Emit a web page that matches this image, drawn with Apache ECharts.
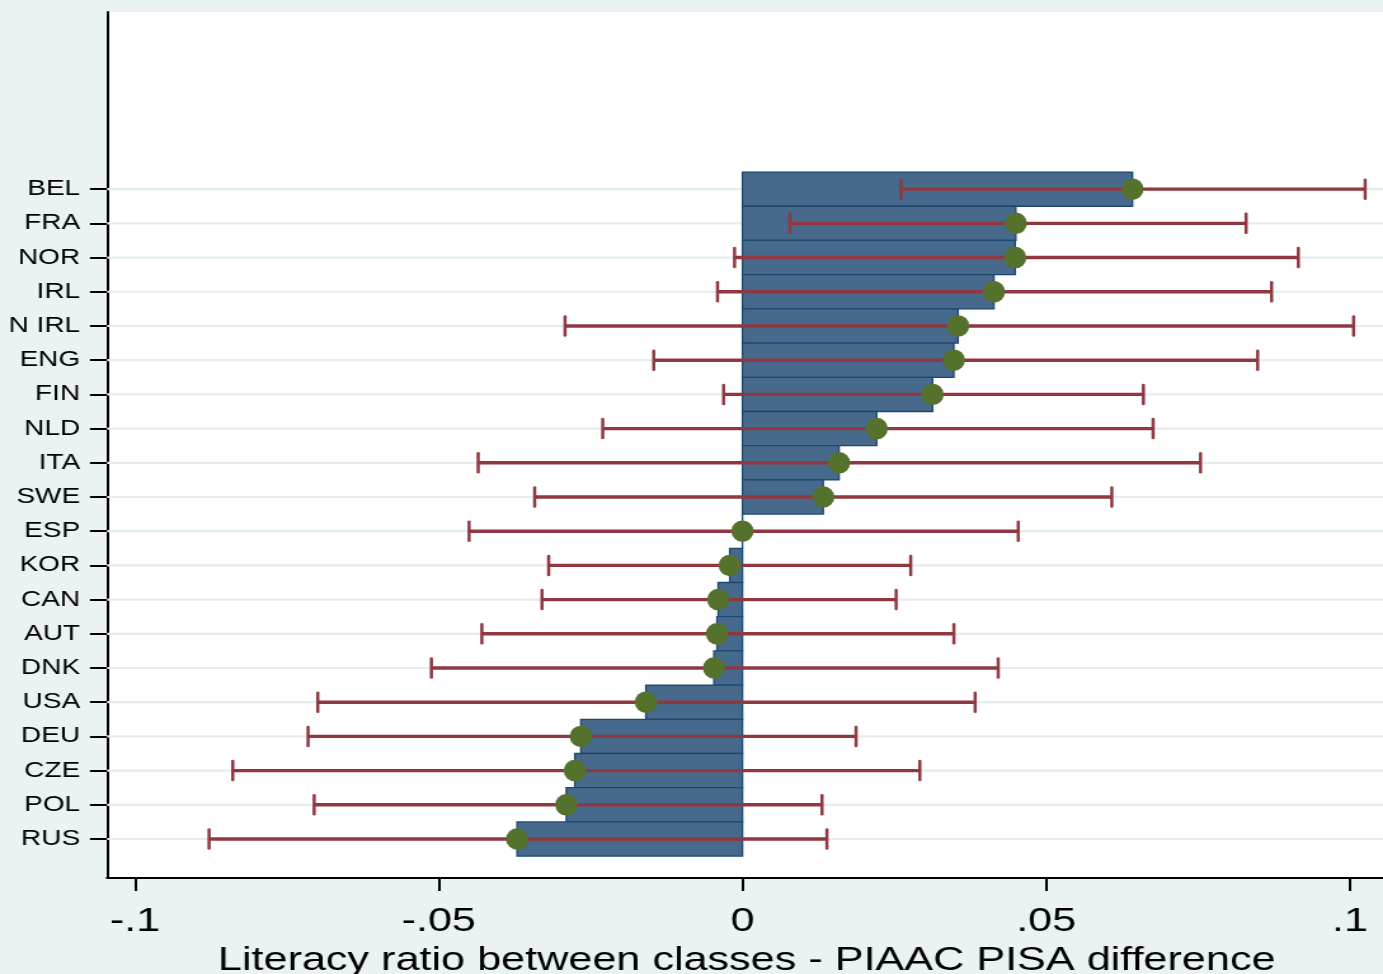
<!DOCTYPE html>
<html>
<head>
<meta charset="utf-8">
<script src="https://cdn.jsdelivr.net/npm/echarts@6/dist/echarts.min.js"></script>
<style>
html,body{margin:0;padding:0;overflow:hidden;background:#eaf2f3;width:1383px;height:974px;}
#chart{width:1100px;height:974px;transform:scaleX(1.27);transform-origin:0 0;}
</style>
</head>
<body>
<div id="chart"></div>
<script>
// Data (top to bottom as in the chart)
const countries = ['BEL','FRA','NOR','IRL','N IRL','ENG','FIN','NLD','ITA','SWE','ESP','KOR','CAN','AUT','DNK','USA','DEU','CZE','POL','RUS'];
const difference = [0.0642,0.0450,0.0449,0.0414,0.0355,0.0348,0.0313,0.0221,0.0159,0.0133,0.0000,-0.0021,-0.0040,-0.0042,-0.0047,-0.0159,-0.0266,-0.0276,-0.0290,-0.0371];
const ciLow = [0.0261,0.0078,-0.0013,-0.0041,-0.0292,-0.0146,-0.0031,-0.0230,-0.0435,-0.0342,-0.0450,-0.0319,-0.0330,-0.0429,-0.0512,-0.0699,-0.0715,-0.0839,-0.0705,-0.0878];
const ciHigh = [0.1025,0.0829,0.0915,0.0871,0.1006,0.0848,0.0660,0.0676,0.0754,0.0608,0.0454,0.0277,0.0253,0.0348,0.0421,0.0383,0.0187,0.0292,0.0131,0.0139];
const xTicks = [-0.1,-0.05,0,0.05,0.1];
const xTickLabels = ['-.1','-.05','0','.05','.1'];
const xTitle = 'Literacy ratio between classes - PIAAC PISA difference';

const N = countries.length;
const yPos = countries.map((c,i)=>N-i);
const X_MIN = -0.1046, X_MAX = 0.1060;

const FONT = 'Liberation Sans, Arial, sans-serif';
const chart = echarts.init(document.getElementById('chart'), null, {renderer:'canvas', width:1100, height:974});

const option = {
  backgroundColor:'#eaf2f3',
  animation:false,
  grid:{left:84.25, top:12, width:1007.4, height:866, show:true, backgroundColor:'#ffffff', borderWidth:0,
        containLabel:false, outerBoundsMode:'none'},
  xAxis:{
    type:'value', min:X_MIN, max:X_MAX,
    axisLine:{show:true, onZero:false, lineStyle:{color:'#000', width:2}},
    axisTick:{show:true, customValues:xTicks, length:13, lineStyle:{color:'#000', width:2}},
    axisLabel:{show:true, customValues:xTicks, margin:27, fontSize:34, color:'#000', fontFamily:FONT,
      formatter:function(v){ const i = xTicks.findIndex(t=>Math.abs(t-v)<1e-9); return i>=0? xTickLabels[i] : ''; }},
    splitLine:{show:false},
    name:xTitle, nameLocation:'middle', nameGap:62,
    nameTextStyle:{fontSize:34, color:'#000', fontFamily:FONT}
  },
  yAxis:{
    type:'value', min:-0.14, max:25.18,
    axisLine:{show:true, onZero:false, lineStyle:{color:'#000', width:2}},
    axisTick:{show:true, customValues:yPos, length:13.4, lineStyle:{color:'#000', width:2}},
    axisLabel:{show:true, customValues:yPos, margin:21.2, fontSize:22, color:'#000', fontFamily:FONT,
      formatter:function(v){ return countries[N-Math.round(v)] || ''; }},
    splitLine:{show:false}
  },
  series:[
    {
      type:'custom', z:1, silent:true,
      data:yPos.map(y=>[y]),
      encode:{y:0},
      renderItem:function(params, api){
        const y = api.value(0);
        const a = api.coord([X_MIN, y]);
        const b = api.coord([X_MAX, y]);
        return {type:'line', shape:{x1:a[0], y1:a[1], x2:b[0], y2:b[1]}, style:{stroke:'#e4edf0', lineWidth:2.2}};
      }
    },
    {
      type:'custom', z:2, silent:true,
      data:difference.map((d,i)=>[d, yPos[i]]),
      encode:{x:0, y:1},
      renderItem:function(params, api){
        const v = api.value(0), y = api.value(1);
        const p0 = api.coord([0, y]);
        const p1 = api.coord([v, y]);
        const h = api.size([0,1])[1];
        return {type:'rect', shape:{x:Math.min(p0[0],p1[0]), y:p0[1]-h/2, width:Math.abs(p1[0]-p0[0]), height:h},
          style:{fill:'#476a8c', stroke:'#1c4870', lineWidth:1.3}};
      }
    },
    {
      type:'custom', z:3, silent:true,
      data:ciLow.map((l,i)=>[l, ciHigh[i], yPos[i]]),
      encode:{x:[0,1], y:2},
      renderItem:function(params, api){
        const l = api.value(0), hgh = api.value(1), y = api.value(2);
        const a = api.coord([l, y]);
        const b = api.coord([hgh, y]);
        const c = 9.5;
        const col = '#8f3840';
        return {type:'group', children:[
          {type:'line', shape:{x1:a[0], y1:a[1], x2:b[0], y2:b[1]}, style:{stroke:col, lineWidth:3.4}},
          {type:'line', shape:{x1:a[0], y1:a[1]-c, x2:a[0], y2:a[1]+c}, style:{stroke:col, lineWidth:2.5, lineCap:'round'}},
          {type:'line', shape:{x1:b[0], y1:b[1]-c, x2:b[0], y2:b[1]+c}, style:{stroke:col, lineWidth:2.5, lineCap:'round'}}
        ]};
      }
    },
    {
      type:'scatter', z:4, silent:true,
      data:difference.map((d,i)=>[d, yPos[i]]),
      symbol:'circle', symbolSize:[17.5, 21.5],
      itemStyle:{color:'#55722d', opacity:1}
    }
  ]
};
chart.setOption(option);
</script>
</body>
</html>
